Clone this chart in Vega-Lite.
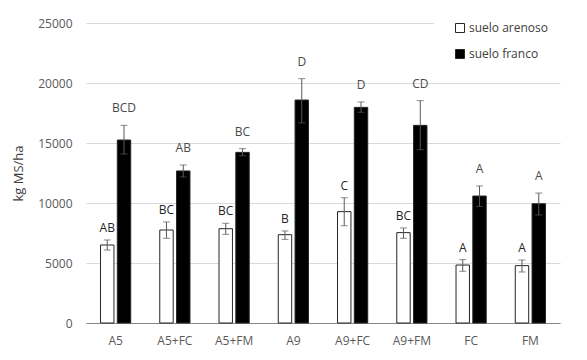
{
  "$schema": "https://vega.github.io/schema/vega-lite/v6.json",
  "width": 474,
  "height": 300,
  "autosize": {"type": "none"},
  "padding": {"left": 86, "top": 23, "right": 27, "bottom": 37},
  "background": "white",
  "config": {
    "font": "Open Sans",
    "view": {"stroke": null}
  },
  "data": {
    "values": [
      {"trat": "A5", "suelo": "suelo arenoso", "value": 6500, "low": 6080, "high": 6920, "letra": "AB"},
      {"trat": "A5", "suelo": "suelo franco", "value": 15250, "low": 14080, "high": 16470, "letra": "BCD"},
      {"trat": "A5+FC", "suelo": "suelo arenoso", "value": 7750, "low": 7060, "high": 8420, "letra": "BC"},
      {"trat": "A5+FC", "suelo": "suelo franco", "value": 12670, "low": 12170, "high": 13170, "letra": "AB"},
      {"trat": "A5+FM", "suelo": "suelo arenoso", "value": 7860, "low": 7390, "high": 8310, "letra": "BC"},
      {"trat": "A5+FM", "suelo": "suelo franco", "value": 14220, "low": 13940, "high": 14530, "letra": "BC"},
      {"trat": "A9", "suelo": "suelo arenoso", "value": 7360, "low": 6970, "high": 7670, "letra": "B"},
      {"trat": "A9", "suelo": "suelo franco", "value": 18580, "low": 16670, "high": 20360, "letra": "D"},
      {"trat": "A9+FC", "suelo": "suelo arenoso", "value": 9280, "low": 8110, "high": 10440, "letra": "C"},
      {"trat": "A9+FC", "suelo": "suelo franco", "value": 17970, "low": 17560, "high": 18420, "letra": "D"},
      {"trat": "A9+FM", "suelo": "suelo arenoso", "value": 7530, "low": 7060, "high": 7920, "letra": "BC"},
      {"trat": "A9+FM", "suelo": "suelo franco", "value": 16470, "low": 14440, "high": 18530, "letra": "CD"},
      {"trat": "FC", "suelo": "suelo arenoso", "value": 4830, "low": 4310, "high": 5280, "letra": "A"},
      {"trat": "FC", "suelo": "suelo franco", "value": 10580, "low": 9720, "high": 11420, "letra": "A"},
      {"trat": "FM", "suelo": "suelo arenoso", "value": 4780, "low": 4250, "high": 5250, "letra": "A"},
      {"trat": "FM", "suelo": "suelo franco", "value": 9940, "low": 9000, "high": 10830, "letra": "A"}
    ]
  },
  "encoding": {
    "x": {
      "field": "trat",
      "type": "nominal",
      "sort": null,
      "scale": {"paddingInner": 0.49, "paddingOuter": 0.245},
      "axis": {
        "title": null,
        "labelAngle": 0,
        "ticks": false,
        "tickSize": 0,
        "labelPadding": 12,
        "labelFontSize": 12,
        "labelColor": "#595959",
        "domainColor": "#868686",
        "domainWidth": 1,
        "grid": false
      }
    },
    "xOffset": {
      "field": "suelo",
      "type": "nominal",
      "sort": ["suelo arenoso", "suelo franco"],
      "scale": {"paddingInner": 0.2}
    }
  },
  "layer": [
    {
      "mark": {"type": "bar", "stroke": "#262626", "strokeWidth": 1},
      "encoding": {
        "y": {
          "field": "value",
          "type": "quantitative",
          "scale": {"domain": [0, 25000], "nice": false},
          "axis": {
            "title": "kg MS/ha",
            "titleFontSize": 13,
            "titleFontWeight": "normal",
            "titleColor": "#404040",
            "titlePadding": 12,
            "values": [0, 5000, 10000, 15000, 20000, 25000],
            "format": "d",
            "domain": false,
            "ticks": false,
            "tickSize": 0,
            "labelPadding": 14,
            "labelFontSize": 12,
            "labelColor": "#595959",
            "gridColor": "#d9d9d9",
            "gridWidth": 1
          }
        },
        "fill": {
          "field": "suelo",
          "type": "nominal",
          "scale": {"domain": ["suelo arenoso", "suelo franco"], "range": ["white", "black"]},
          "legend": {
            "title": null,
            "orient": "none",
            "legendX": 348,
            "legendY": -21,
            "padding": 20,
            "fillColor": "white",
            "symbolType": "square",
            "symbolSize": 81,
            "symbolStrokeColor": "#262626",
            "symbolStrokeWidth": 1,
            "labelFontSize": 12,
            "labelColor": "#404040",
            "labelOffset": 3,
            "rowPadding": 12
          }
        }
      }
    },
    {
      "mark": {"type": "rule", "color": "#595959", "strokeWidth": 1},
      "encoding": {
        "y": {"field": "low", "type": "quantitative"},
        "y2": {"field": "high"}
      }
    },
    {
      "mark": {"type": "tick", "color": "#595959", "thickness": 1, "size": 7},
      "encoding": {"y": {"field": "low", "type": "quantitative"}}
    },
    {
      "mark": {"type": "tick", "color": "#595959", "thickness": 1, "size": 7},
      "encoding": {"y": {"field": "high", "type": "quantitative"}}
    },
    {
      "transform": [{"filter": "datum.suelo == 'suelo arenoso'"}],
      "mark": {"type": "text", "baseline": "bottom", "dy": -5, "fontSize": 12, "color": "#262626"},
      "encoding": {
        "y": {"field": "high", "type": "quantitative"},
        "text": {"field": "letra"}
      }
    },
    {
      "transform": [{"filter": "datum.suelo == 'suelo franco'"}],
      "mark": {"type": "text", "baseline": "bottom", "dy": -10, "fontSize": 12, "color": "#4a4a4a"},
      "encoding": {
        "y": {"field": "high", "type": "quantitative"},
        "text": {"field": "letra"}
      }
    }
  ]
}
